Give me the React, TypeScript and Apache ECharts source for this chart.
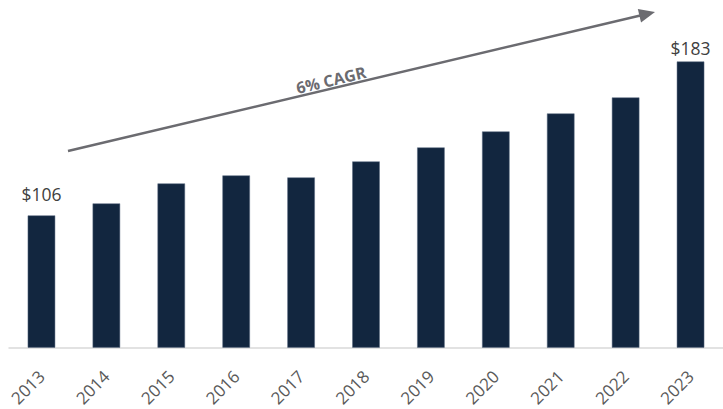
import React, { useEffect, useRef } from "react";
import * as echarts from "echarts";

const years = ["2013", "2014", "2015", "2016", "2017", "2018", "2019", "2020", "2021", "2022", "2023"];
const values = [106, 112, 122, 126, 125, 133, 140, 148, 157, 165, 183];
const labelledIdx = [0, 10];
const cagrText = "6% CAGR";

export default function App() {
  const ref = useRef<HTMLDivElement>(null);
  useEffect(() => {
    if (!ref.current) return;
    const chart = echarts.init(ref.current, null, { renderer: "svg" });
    const font = "'Open Sans', 'Noto Sans', sans-serif";
    const data = values.map((v, i) => {
      if (labelledIdx.includes(i)) {
        return {
          value: v,
          label: {
            show: true,
            position: "top",
            distance: i === 0 ? 12 : 4,
            formatter: "${c}",
            color: "#404040",
            fontSize: 17.5,
            fontFamily: font,
          },
        };
      }
      return v;
    });
    const tip = [655, 12];
    const start = [68, 151];
    const dx = tip[0] - start[0];
    const dy = tip[1] - start[1];
    const len = Math.sqrt(dx * dx + dy * dy);
    const ux = dx / len, uy = dy / len;
    const nx = -uy, ny = ux;
    const hl = 16, hw = 7;
    const bx = tip[0] - hl * ux, by = tip[1] - hl * uy;
    const angle = Math.atan2(-dy, dx);
    chart.setOption({
      animation: false,
      grid: { left: 9, width: 725, top: 27.5, bottom: 61.5, containLabel: false },
      xAxis: {
        type: "category",
        data: years,
        axisLine: { show: true, lineStyle: { color: "#d9d9d9", width: 1.5 } },
        axisTick: { show: false },
        axisLabel: {
          rotate: 45,
          color: "#595959",
          fontSize: 17,
          fontFamily: font,
          margin: 26,
          interval: 0,
        },
      },
      yAxis: {
        type: "value",
        min: 40,
        max: 200,
        show: false,
        splitLine: { show: false },
      },
      series: [
        {
          type: "bar",
          data,
          barWidth: 27.5,
          itemStyle: { color: "#12263f", borderColor: "#5b6b80", borderWidth: 0.5 },
        },
      ],
      graphic: [
        {
          type: "line",
          shape: { x1: start[0], y1: start[1], x2: bx + ux * 2, y2: by + uy * 2 },
          style: { stroke: "#6b6b70", lineWidth: 2.5 },
        },
        {
          type: "polygon",
          shape: {
            points: [
              [tip[0], tip[1]],
              [bx + hw * nx, by + hw * ny],
              [bx - hw * nx, by - hw * ny],
            ],
          },
          style: { fill: "#6b6b70" },
        },
        {
          type: "text",
          x: 331,
          y: 80,
          rotation: angle,
          style: {
            text: cagrText,
            fill: "#6b6b70",
            font: `bold 16px ${font}`,
            align: "center",
            verticalAlign: "middle",
          },
        },
      ],
    });
    return () => chart.dispose();
  }, []);
  return (
    <div
      ref={ref}
      style={{ position: "fixed", left: 0, top: 0, width: 723, height: 409, background: "#fff" }}
    />
  );
}
